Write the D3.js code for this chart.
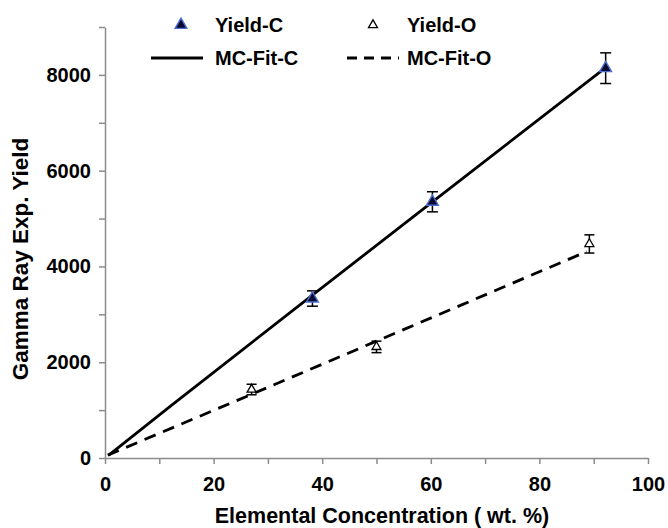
<!DOCTYPE html>
<html><head><meta charset="utf-8">
<script src="https://cdn.jsdelivr.net/npm/d3@7"></script>
<style>body{margin:0;background:#fff}svg{display:block}</style>
</head><body><svg id="c" width="668" height="528"></svg>
<script>
// ---- data ----
const yieldC_x = [38.2, 60.3, 92.2];
const yieldC_y = [3330, 5350, 8140];
const yieldC_err = [160, 210, 320];
const yieldO_x = [27.0, 50.0, 89.2];
const yieldO_y = [1430, 2320, 4470];
const yieldO_err = [110, 120, 190];
const fitC_x = [0.7, 12, 38.2, 60.3, 92.2];
const fitC_y = [60, 1080, 3400, 5350, 8150];
const fitO_x = [0.5, 27.0, 50.0, 88.7];
const fitO_y = [60, 1330, 2440, 4310];
const xTicks = [0, 10, 20, 30, 40, 50, 60, 70, 80, 90, 100];
const xLabels = [0, 20, 40, 60, 80, 100];
const yTicks = [0, 1000, 2000, 3000, 4000, 5000, 6000, 7000, 8000, 9000];
const yLabels = [0, 2000, 4000, 6000, 8000];

const svg = d3.select('#c');
const x = d3.scaleLinear().domain([0, 100]).range([105, 648]);
const y = d3.scaleLinear().domain([0, 9000]).range([458, 27]);
const font = '"Liberation Sans", Arial, sans-serif';
const axisCol = '#8c8c8c';

// axes
const gx = svg.append('g').attr('transform', `translate(0,${y(0)})`)
  .call(d3.axisBottom(x).tickValues(xTicks).tickSize(6).tickSizeOuter(0).tickFormat(d => xLabels.includes(d) ? d : ''));
const gy = svg.append('g').attr('transform', `translate(${x(0)},0)`)
  .call(d3.axisLeft(y).tickValues(yTicks).tickSize(6).tickSizeOuter(0).tickFormat(d => yLabels.includes(d) ? d : ''));
[gx, gy].forEach(g => {
  g.select('.domain').attr('stroke', axisCol).attr('stroke-width', 1.5);
  g.selectAll('.tick line').attr('stroke', axisCol).attr('stroke-width', 1.5);
  g.selectAll('.tick text').attr('fill', '#000').style('font-family', font)
    .style('font-weight', 'bold').style('font-size', '20px');
});
gx.selectAll('.tick text').attr('dy', '1.2em');
gy.selectAll('.tick text').attr('dx', '-0.25em');

// axis titles
svg.append('text').attr('x', 382).attr('y', 523).attr('text-anchor', 'middle')
  .style('font-family', font).style('font-weight', 'bold').style('font-size', '21.5px')
  .text('Elemental Concentration ( wt. %)');
svg.append('text').attr('transform', 'translate(28,259) rotate(-90)').attr('text-anchor', 'middle')
  .style('font-family', font).style('font-weight', 'bold').style('font-size', '22.5px')
  .text('Gamma Ray Exp. Yield');

// fit lines
const line = d3.line().x(d => x(d[0])).y(d => y(d[1]));
svg.append('path').datum(fitC_x.map((v, i) => [v, fitC_y[i]]))
  .attr('d', line).attr('fill', 'none').attr('stroke', '#000').attr('stroke-width', 2.8);
svg.append('path').datum(fitO_x.map((v, i) => [v, fitO_y[i]]))
  .attr('d', line).attr('fill', 'none').attr('stroke', '#000').attr('stroke-width', 2.8)
  .attr('stroke-dasharray', '12,8');

// error bars
function errBars(xs, ys, es, cw) {
  const g = svg.append('g').attr('stroke', '#000').attr('stroke-width', 1.5);
  xs.forEach((v, i) => {
    const cx = x(v), t = y(ys[i] + es[i]), b = y(ys[i] - es[i]);
    g.append('line').attr('x1', cx).attr('x2', cx).attr('y1', t).attr('y2', b);
    g.append('line').attr('x1', cx - cw).attr('x2', cx + cw).attr('y1', t).attr('y2', t);
    g.append('line').attr('x1', cx - cw).attr('x2', cx + cw).attr('y1', b).attr('y2', b);
  });
}
errBars(yieldC_x, yieldC_y, yieldC_err, 5.5);
errBars(yieldO_x, yieldO_y, yieldO_err, 5);

// markers
const triC = d3.symbol().type(d3.symbolTriangle).size(60);
const triO = d3.symbol().type(d3.symbolTriangle).size(35);
svg.append('g').selectAll('path').data(yieldC_x).join('path')
  .attr('transform', (d, i) => `translate(${x(d)},${y(yieldC_y[i])})`)
  .attr('d', triC).attr('fill', '#0a0a30').attr('stroke', '#4a6cd0').attr('stroke-width', 1.4);
svg.append('g').selectAll('path').data(yieldO_x).join('path')
  .attr('transform', (d, i) => `translate(${x(d)},${y(yieldO_y[i])})`)
  .attr('d', triO).attr('fill', '#fff').attr('stroke', '#000').attr('stroke-width', 1.3);

// legend
const lg = svg.append('g').style('font-family', font).style('font-weight', 'bold').style('font-size', '20px');
lg.append('path').attr('transform', 'translate(181,25)').attr('d', triC)
  .attr('fill', '#0a0a30').attr('stroke', '#4a6cd0').attr('stroke-width', 1.4);
lg.append('text').attr('x', 215).attr('y', 32).text('Yield-C');
lg.append('path').attr('transform', 'translate(373,25)').attr('d', triO)
  .attr('fill', '#fff').attr('stroke', '#000').attr('stroke-width', 1.3);
lg.append('text').attr('x', 407).attr('y', 32).text('Yield-O');
lg.append('line').attr('x1', 151).attr('x2', 203).attr('y1', 58).attr('y2', 58)
  .attr('stroke', '#000').attr('stroke-width', 2.8);
lg.append('text').attr('x', 215).attr('y', 65).text('MC-Fit-C');
lg.append('line').attr('x1', 347).attr('x2', 399).attr('y1', 58).attr('y2', 58)
  .attr('stroke', '#000').attr('stroke-width', 2.8).attr('stroke-dasharray', '10,7');
lg.append('text').attr('x', 407).attr('y', 65).text('MC-Fit-O');
</script></body></html>
